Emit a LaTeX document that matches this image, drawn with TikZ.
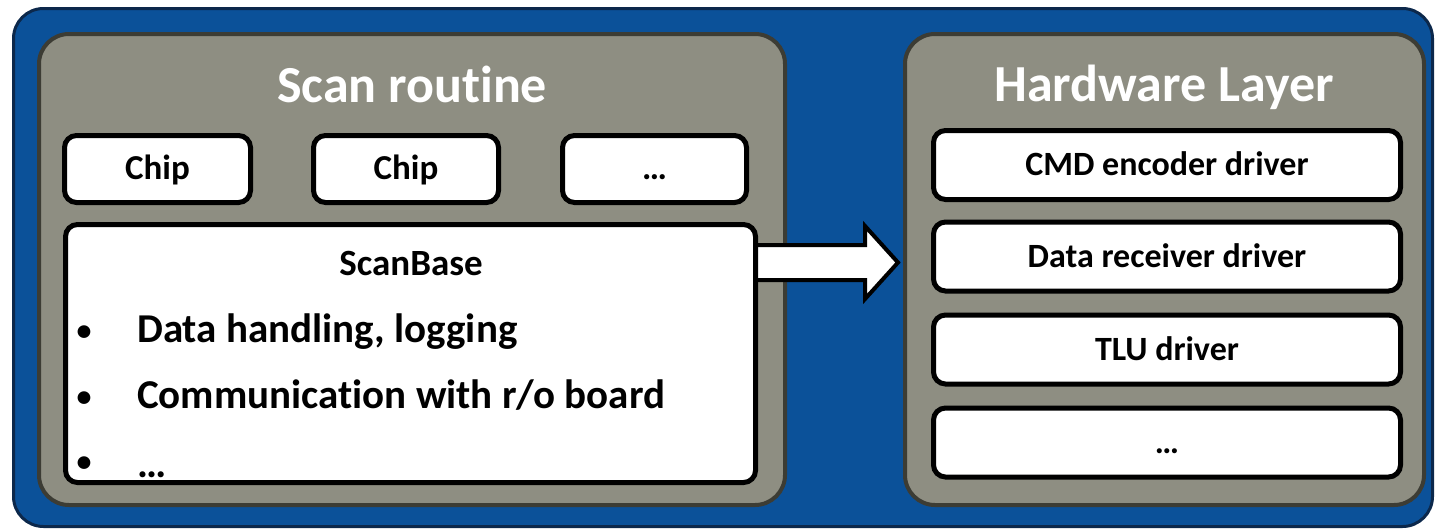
\documentclass[tikz,border=0pt]{standalone}
\usepackage{fontspec}
\setmainfont{Carlito}[Ligatures={NoCommon,NoContextual}]
\usetikzlibrary{positioning}
\definecolor{bluefill}{RGB}{11,81,153}
\definecolor{navyline}{RGB}{12,40,75}
\definecolor{grayfill}{RGB}{142,142,130}
\definecolor{grayline}{RGB}{60,60,52}
\tikzset{
  x=1pt,y=-1pt,
  outerbox/.style={draw=navyline,line width=3pt,fill=bluefill,rounded corners=30pt},
  panel/.style={draw=grayline,line width=4pt,fill=grayfill,rounded corners=30pt,inner sep=0pt},
  wbox/.style={draw=black,line width=5pt,fill=white,rounded corners=12pt,inner sep=0pt,text height=25pt,text depth=4pt},
  ptitle/.style={text=white,font=\fontsize{52}{60}\selectfont\bfseries,anchor=base,inner sep=0pt},
  chiptext/.style={font=\fontsize{35}{40}\selectfont\bfseries},
  hwtext/.style={font=\fontsize{34}{40}\selectfont\bfseries},
  sbtext/.style={font=\fontsize{37}{44}\selectfont\bfseries,anchor=base,inner sep=0pt},
  bultext/.style={font=\fontsize{41}{48}\selectfont\bfseries,anchor=base west,inner sep=0pt},
  bulmark/.style={font=\fontsize{30}{36}\selectfont\bfseries,anchor=base,inner sep=0pt},
  blockarrow/.style={draw=black,line width=4pt,fill=white,line join=miter},
}
\begin{document}
\begin{tikzpicture}
\useasboundingbox (0,0) rectangle (1437,530);
\draw[outerbox] (13.5,8.5) rectangle (1432.5,526.5);
% panels
\node[panel,minimum width=746pt,minimum height=471pt] (scanpanel) at (412,269.5) {};
\node[panel,minimum width=519pt,minimum height=471pt] (hwpanel) at (1164.5,269.5) {};
\node[ptitle] (scantitle) at (412,102) {Scan routine};
\node[ptitle] (hwtitle) at (1164,101) {Hardware Layer};
% chip boxes
\node[wbox,chiptext,minimum width=186pt,minimum height=67pt] (chip1) at (157.5,169) {Chip};
\node[wbox,chiptext,minimum width=185pt,minimum height=67pt] (chip2) at (406,169) {Chip};
\node[wbox,chiptext,minimum width=184pt,minimum height=67pt] (chip3) at (654.5,169) {…};
% block arrow
\draw[blockarrow] (740,245) -- (865,245) -- (865,226) -- (898,262.5) -- (865,299) -- (865,280) -- (740,280) -- cycle;
% scanbase
\node[wbox,minimum width=690pt,minimum height=258pt] (scanbase) at (410.5,353.5) {};
\node[sbtext] (sbtitle) at (411,275) {ScanBase};
\node[bulmark] (b1) at (84,340) {•};
\node[bultext] (t1) at (137,342) {Data handling, logging};
\node[bulmark] (b2) at (84,406) {•};
\node[bultext] (t2) at (137,408) {Communication with r/o board};
\node[bulmark] (b3) at (84,471) {•};
\node[bultext] (t3) at (137,477) {…};
% hardware boxes
\node[wbox,hwtext,minimum width=467pt,minimum height=69pt] (cmd) at (1167,165) {CMD encoder driver};
\node[wbox,hwtext,minimum width=467pt,minimum height=69pt] (drx) at (1167,256.5) {Data receiver driver};
\node[wbox,hwtext,minimum width=467pt,minimum height=69pt] (tlu) at (1167,349.5) {TLU driver};
\node[wbox,hwtext,minimum width=467pt,minimum height=69pt] (more) at (1167,442.5) {…};
\end{tikzpicture}
\end{document}
